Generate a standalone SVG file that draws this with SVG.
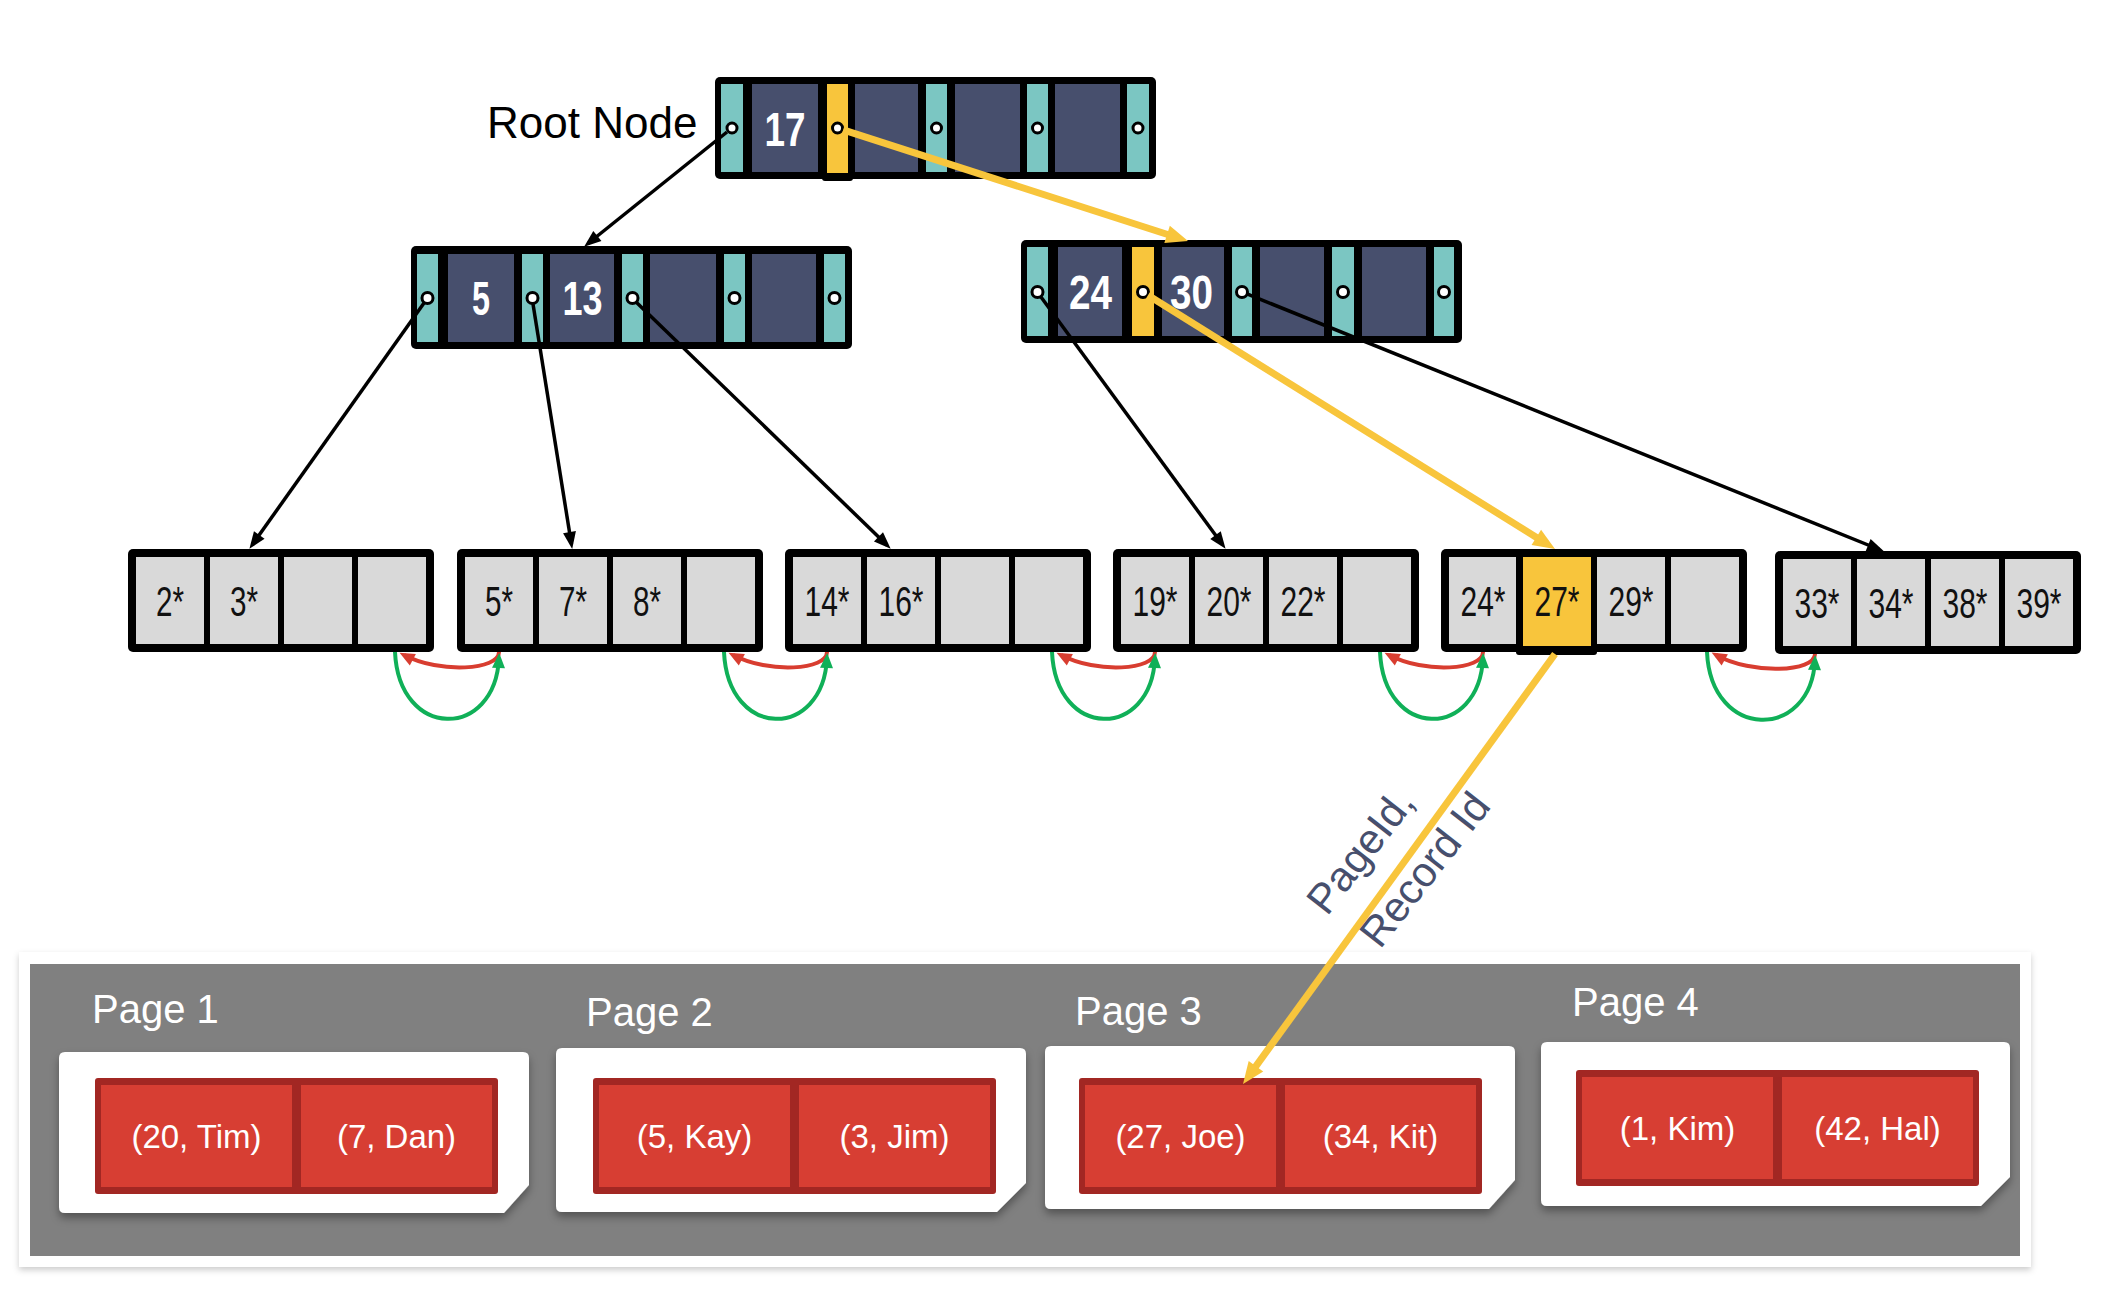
<svg xmlns="http://www.w3.org/2000/svg" width="2120" height="1300" viewBox="0 0 2120 1300">
<defs>
<style>
.frame{fill:#000}
.ptr{fill:#7bc6c2}
.ptrY{fill:#f8c53c}
.key{fill:#474f6d}
.keyT{font-family:"Liberation Sans Narrow","Liberation Sans",sans-serif;font-weight:bold;font-size:48px;fill:#fff;text-anchor:middle}
.hole{fill:#fff;stroke:#000;stroke-width:3}
.cell{fill:#d9d9d9}
.cellY{fill:#f8c53c}
.leafT{font-family:"Liberation Sans Narrow","Liberation Sans",sans-serif;font-size:42px;fill:#111;text-anchor:middle}
.blk{stroke:#000;stroke-width:3.5;fill:none;marker-end:url(#aB)}
.yel{stroke:#f8c53c;stroke-width:7;fill:none;marker-end:url(#aY)}
.red{stroke:#d83d30;stroke-width:4;fill:none;marker-end:url(#aR)}
.grn{stroke:#10b058;stroke-width:4;fill:none;marker-end:url(#aG)}
.page{fill:#fff;filter:url(#sh)}
.pageT{font-family:"Liberation Sans",Arial,sans-serif;font-size:40px;fill:#fff}
.rec{fill:#a22723}
.recC{fill:#d73e33}
.recT{font-family:"Liberation Sans",Arial,sans-serif;font-size:33px;fill:#fff;text-anchor:middle}
.lbl{font-family:"Liberation Sans",Arial,sans-serif;font-size:42px;fill:#474f6d}
.title{font-family:"Liberation Sans",Arial,sans-serif;font-size:44px;fill:#000}
</style>
<filter id="sh" x="-5%" y="-10%" width="110%" height="130%">
<feDropShadow dx="0" dy="5" stdDeviation="4" flood-color="#000" flood-opacity="0.35"/>
</filter>
<filter id="sh2" x="-2%" y="-5%" width="104%" height="115%">
<feDropShadow dx="0" dy="3" stdDeviation="3" flood-color="#000" flood-opacity="0.2"/>
</filter>
<marker id="aB" markerUnits="userSpaceOnUse" markerWidth="18" markerHeight="14" refX="12" refY="6.5" orient="auto" overflow="visible"><path d="M0,0 L17,6.5 L0,13 z" fill="#000"/></marker>
<marker id="aY" markerUnits="userSpaceOnUse" markerWidth="24" markerHeight="20" refX="12" refY="9" orient="auto" overflow="visible"><path d="M0,0 L22,9 L0,18 z" fill="#f8c53c"/></marker>
<marker id="aR" markerUnits="userSpaceOnUse" markerWidth="17" markerHeight="15" refX="10" refY="6.5" orient="auto" overflow="visible"><path d="M0,0 L15,6.5 L0,13 z" fill="#d83d30"/></marker>
<marker id="aG" markerUnits="userSpaceOnUse" markerWidth="17" markerHeight="15" refX="10" refY="6.5" orient="auto" overflow="visible"><path d="M0,0 L15,6.5 L0,13 z" fill="#10b058"/></marker>
</defs>
<rect width="2120" height="1300" fill="#fff"/>

<text class="title" x="487" y="138">Root Node</text>

<g id="root-node">
<rect class="frame" x="715" y="77" width="441" height="102" rx="5"/>
<rect class="ptr" x="721" y="84" width="22" height="88"/>
<rect class="key" x="752" y="84" width="66" height="88"/>
<rect class="frame" x="822" y="80" width="31" height="101" rx="3"/>
<rect class="ptrY" x="827" y="84" width="21" height="89"/>
<rect class="key" x="855" y="84" width="63" height="88"/>
<rect class="ptr" x="926" y="84" width="21" height="88"/>
<rect class="key" x="955" y="84" width="65" height="88"/>
<rect class="ptr" x="1027" y="84" width="21" height="88"/>
<rect class="key" x="1055" y="84" width="65" height="88"/>
<rect class="ptr" x="1127" y="84" width="22" height="88"/>
<text class="keyT" x="785" y="146" textLength="41" lengthAdjust="spacingAndGlyphs">17</text>
<circle class="hole" cx="732" cy="128" r="5"/>
<circle class="hole" cx="837.5" cy="128" r="5"/>
<circle class="hole" cx="936.5" cy="128" r="5"/>
<circle class="hole" cx="1037.5" cy="128" r="5"/>
<circle class="hole" cx="1138" cy="128" r="5"/>
</g>

<g id="node-5-13">
<rect class="frame" x="411" y="246" width="441" height="103" rx="5"/>
<rect class="ptr" x="417" y="254" width="21" height="88"/>
<rect class="key" x="448" y="254" width="66" height="88"/>
<rect class="ptr" x="522" y="254" width="21" height="88"/>
<rect class="key" x="550" y="254" width="64" height="88"/>
<rect class="ptr" x="622" y="254" width="21" height="88"/>
<rect class="key" x="650" y="254" width="66" height="88"/>
<rect class="ptr" x="724" y="254" width="21" height="88"/>
<rect class="key" x="752" y="254" width="64" height="88"/>
<rect class="ptr" x="824" y="254" width="21" height="88"/>
<text class="keyT" x="481" y="315" textLength="18" lengthAdjust="spacingAndGlyphs">5</text>
<text class="keyT" x="582.5" y="315" textLength="40" lengthAdjust="spacingAndGlyphs">13</text>
<circle class="hole" cx="427.5" cy="298" r="5.5"/>
<circle class="hole" cx="532.5" cy="298" r="5.5"/>
<circle class="hole" cx="632.5" cy="298" r="5.5"/>
<circle class="hole" cx="734.5" cy="298" r="5.5"/>
<circle class="hole" cx="834.5" cy="298" r="5.5"/>
</g>

<g id="node-24-30">
<rect class="frame" x="1021" y="240" width="441" height="103" rx="5"/>
<rect class="ptr" x="1027" y="247" width="21" height="89"/>
<rect class="key" x="1058" y="247" width="64" height="89"/>
<rect class="ptrY" x="1132" y="247" width="22" height="89"/>
<rect class="key" x="1162" y="247" width="62" height="89"/>
<rect class="ptr" x="1232" y="247" width="20" height="89"/>
<rect class="key" x="1260" y="247" width="64" height="89"/>
<rect class="ptr" x="1332" y="247" width="22" height="89"/>
<rect class="key" x="1362" y="247" width="64" height="89"/>
<rect class="ptr" x="1434" y="247" width="20" height="89"/>
<text class="keyT" x="1090.5" y="309" textLength="43" lengthAdjust="spacingAndGlyphs">24</text>
<text class="keyT" x="1191.5" y="309" textLength="43" lengthAdjust="spacingAndGlyphs">30</text>
<circle class="hole" cx="1037.5" cy="292" r="5.5"/>
<circle class="hole" cx="1143" cy="292" r="5.5"/>
<circle class="hole" cx="1242" cy="292" r="5.5"/>
<circle class="hole" cx="1343" cy="292" r="5.5"/>
<circle class="hole" cx="1444" cy="292" r="5.5"/>
</g>

<g id="leaf-1">
<rect class="frame" x="128" y="549" width="306" height="103" rx="5"/>
<rect class="cell" x="136" y="557" width="68" height="87"/>
<rect class="cell" x="210" y="557" width="68" height="87"/>
<rect class="cell" x="284" y="557" width="68" height="87"/>
<rect class="cell" x="358" y="557" width="68" height="87"/>
<text class="leafT" x="170" y="616" textLength="28" lengthAdjust="spacingAndGlyphs">2*</text>
<text class="leafT" x="244" y="616" textLength="28" lengthAdjust="spacingAndGlyphs">3*</text>
</g>

<g id="leaf-2">
<rect class="frame" x="457" y="549" width="306" height="103" rx="5"/>
<rect class="cell" x="465" y="557" width="68" height="87"/>
<rect class="cell" x="539" y="557" width="68" height="87"/>
<rect class="cell" x="613" y="557" width="68" height="87"/>
<rect class="cell" x="687" y="557" width="68" height="87"/>
<text class="leafT" x="499" y="616" textLength="28" lengthAdjust="spacingAndGlyphs">5*</text>
<text class="leafT" x="573" y="616" textLength="28" lengthAdjust="spacingAndGlyphs">7*</text>
<text class="leafT" x="647" y="616" textLength="28" lengthAdjust="spacingAndGlyphs">8*</text>
</g>

<g id="leaf-3">
<rect class="frame" x="785" y="549" width="306" height="103" rx="5"/>
<rect class="cell" x="793" y="557" width="68" height="87"/>
<rect class="cell" x="867" y="557" width="68" height="87"/>
<rect class="cell" x="941" y="557" width="68" height="87"/>
<rect class="cell" x="1015" y="557" width="68" height="87"/>
<text class="leafT" x="827" y="616" textLength="45" lengthAdjust="spacingAndGlyphs">14*</text>
<text class="leafT" x="901" y="616" textLength="45" lengthAdjust="spacingAndGlyphs">16*</text>
</g>

<g id="leaf-4">
<rect class="frame" x="1113" y="549" width="306" height="103" rx="5"/>
<rect class="cell" x="1121" y="557" width="68" height="87"/>
<rect class="cell" x="1195" y="557" width="68" height="87"/>
<rect class="cell" x="1269" y="557" width="68" height="87"/>
<rect class="cell" x="1343" y="557" width="68" height="87"/>
<text class="leafT" x="1155" y="616" textLength="45" lengthAdjust="spacingAndGlyphs">19*</text>
<text class="leafT" x="1229" y="616" textLength="45" lengthAdjust="spacingAndGlyphs">20*</text>
<text class="leafT" x="1303" y="616" textLength="45" lengthAdjust="spacingAndGlyphs">22*</text>
</g>

<g id="leaf-5">
<rect class="frame" x="1441" y="549" width="306" height="103" rx="5"/>
<rect class="cell" x="1449" y="557" width="68" height="87"/>
<rect class="frame" x="1516" y="552" width="81" height="103" rx="3"/>
<rect class="cellY" x="1523" y="557" width="68" height="89"/>
<rect class="cell" x="1597" y="557" width="68" height="87"/>
<rect class="cell" x="1671" y="557" width="68" height="87"/>
<text class="leafT" x="1483" y="616" textLength="45" lengthAdjust="spacingAndGlyphs">24*</text>
<text class="leafT" x="1557" y="616" textLength="45" lengthAdjust="spacingAndGlyphs">27*</text>
<text class="leafT" x="1631" y="616" textLength="45" lengthAdjust="spacingAndGlyphs">29*</text>
</g>

<g id="leaf-6">
<rect class="frame" x="1775" y="551" width="306" height="103" rx="5"/>
<rect class="cell" x="1783" y="559" width="68" height="87"/>
<rect class="cell" x="1857" y="559" width="68" height="87"/>
<rect class="cell" x="1931" y="559" width="68" height="87"/>
<rect class="cell" x="2005" y="559" width="68" height="87"/>
<text class="leafT" x="1817" y="618" textLength="45" lengthAdjust="spacingAndGlyphs">33*</text>
<text class="leafT" x="1891" y="618" textLength="45" lengthAdjust="spacingAndGlyphs">34*</text>
<text class="leafT" x="1965" y="618" textLength="45" lengthAdjust="spacingAndGlyphs">38*</text>
<text class="leafT" x="2039" y="618" textLength="45" lengthAdjust="spacingAndGlyphs">39*</text>
</g>

<g id="heap-file">
<rect x="19" y="952" width="2012" height="315" fill="#fff" filter="url(#sh2)"/>
<rect x="30" y="964" width="1990" height="292" fill="#808080"/>
</g>

<g id="page-1">
<path class="page" d="M65 1052 H523 Q529 1052 529 1058 V1185 L504 1213 H65 Q59 1213 59 1207 V1058 Q59 1052 65 1052 Z"/>
<text class="pageT" x="92" y="1023">Page 1</text>
<rect class="rec" x="95" y="1078" width="403" height="116" rx="3"/>
<rect class="recC" x="101" y="1085" width="191" height="102"/>
<rect class="recC" x="301" y="1085" width="191" height="102"/>
<text class="recT" x="196.5" y="1148">(20, Tim)</text>
<text class="recT" x="396.5" y="1148">(7, Dan)</text>
</g>

<g id="page-2">
<path class="page" d="M562 1048 H1020 Q1026 1048 1026 1054 V1183 L997 1212 H562 Q556 1212 556 1206 V1054 Q556 1048 562 1048 Z"/>
<text class="pageT" x="586" y="1026">Page 2</text>
<rect class="rec" x="593" y="1078" width="403" height="116" rx="3"/>
<rect class="recC" x="599" y="1085" width="191" height="102"/>
<rect class="recC" x="799" y="1085" width="191" height="102"/>
<text class="recT" x="694.5" y="1148">(5, Kay)</text>
<text class="recT" x="894.5" y="1148">(3, Jim)</text>
</g>

<g id="page-3">
<path class="page" d="M1051 1046 H1509 Q1515 1046 1515 1052 V1180 L1489 1209 H1051 Q1045 1209 1045 1203 V1052 Q1045 1046 1051 1046 Z"/>
<text class="pageT" x="1075" y="1025">Page 3</text>
<rect class="rec" x="1079" y="1078" width="403" height="116" rx="3"/>
<rect class="recC" x="1085" y="1085" width="191" height="102"/>
<rect class="recC" x="1285" y="1085" width="191" height="102"/>
<text class="recT" x="1180.5" y="1148">(27, Joe)</text>
<text class="recT" x="1380.5" y="1148">(34, Kit)</text>
</g>

<g id="page-4">
<path class="page" d="M1547 1042 H2004 Q2010 1042 2010 1048 V1177 L1981 1206 H1547 Q1541 1206 1541 1200 V1048 Q1541 1042 1547 1042 Z"/>
<text class="pageT" x="1572" y="1016">Page 4</text>
<rect class="rec" x="1576" y="1070" width="403" height="116" rx="3"/>
<rect class="recC" x="1582" y="1077" width="191" height="102"/>
<rect class="recC" x="1782" y="1077" width="191" height="102"/>
<text class="recT" x="1677.5" y="1140">(1, Kim)</text>
<text class="recT" x="1877.5" y="1140">(42, Hal)</text>
</g>

<g id="connectors">
<line class="blk" x1="727" y1="132" x2="588" y2="243.5"/>
<line class="blk" x1="424" y1="303" x2="252.3" y2="544.7"/>
<line class="blk" x1="533" y1="304" x2="571.4" y2="544"/>
<line class="blk" x1="636.3" y1="302.2" x2="887.1" y2="545.2"/>
<line class="blk" x1="1041" y1="297" x2="1222.6" y2="544.8"/>
<line class="blk" x1="1247.6" y1="294.2" x2="1879.3" y2="549.5"/>
<line class="yel" x1="843.2" y1="129.8" x2="1178.5" y2="238"/>
<line class="yel" x1="1148" y1="295.2" x2="1546.5" y2="543.7"/>
<line class="yel" x1="1555" y1="654" x2="1248.9" y2="1075.9"/>
<path class="red" d="M499 652 C499 670 440 674 404 655"/>
<path class="grn" d="M395 652 C399 740 495 740 499 658"/>
<path class="red" d="M827 652 C827 670 769 674 733 655"/>
<path class="grn" d="M724 652 C728 740 823 740 827 658"/>
<path class="red" d="M1155 652 C1155 670 1097 674 1061 655"/>
<path class="grn" d="M1052 652 C1056 740 1151 740 1155 658"/>
<path class="red" d="M1483 652 C1483 670 1425 674 1389 655"/>
<path class="grn" d="M1380 652 C1384 740 1479 740 1483 658"/>
<path class="red" d="M1815 654 C1815 672 1752 675 1716 655"/>
<path class="grn" d="M1707 652 C1711 741 1811 741 1815 660"/>
</g>

<text class="lbl" transform="translate(1327 917) rotate(-52)">PageId,</text>
<text class="lbl" transform="translate(1380 950) rotate(-52)">Record Id</text>
</svg>
